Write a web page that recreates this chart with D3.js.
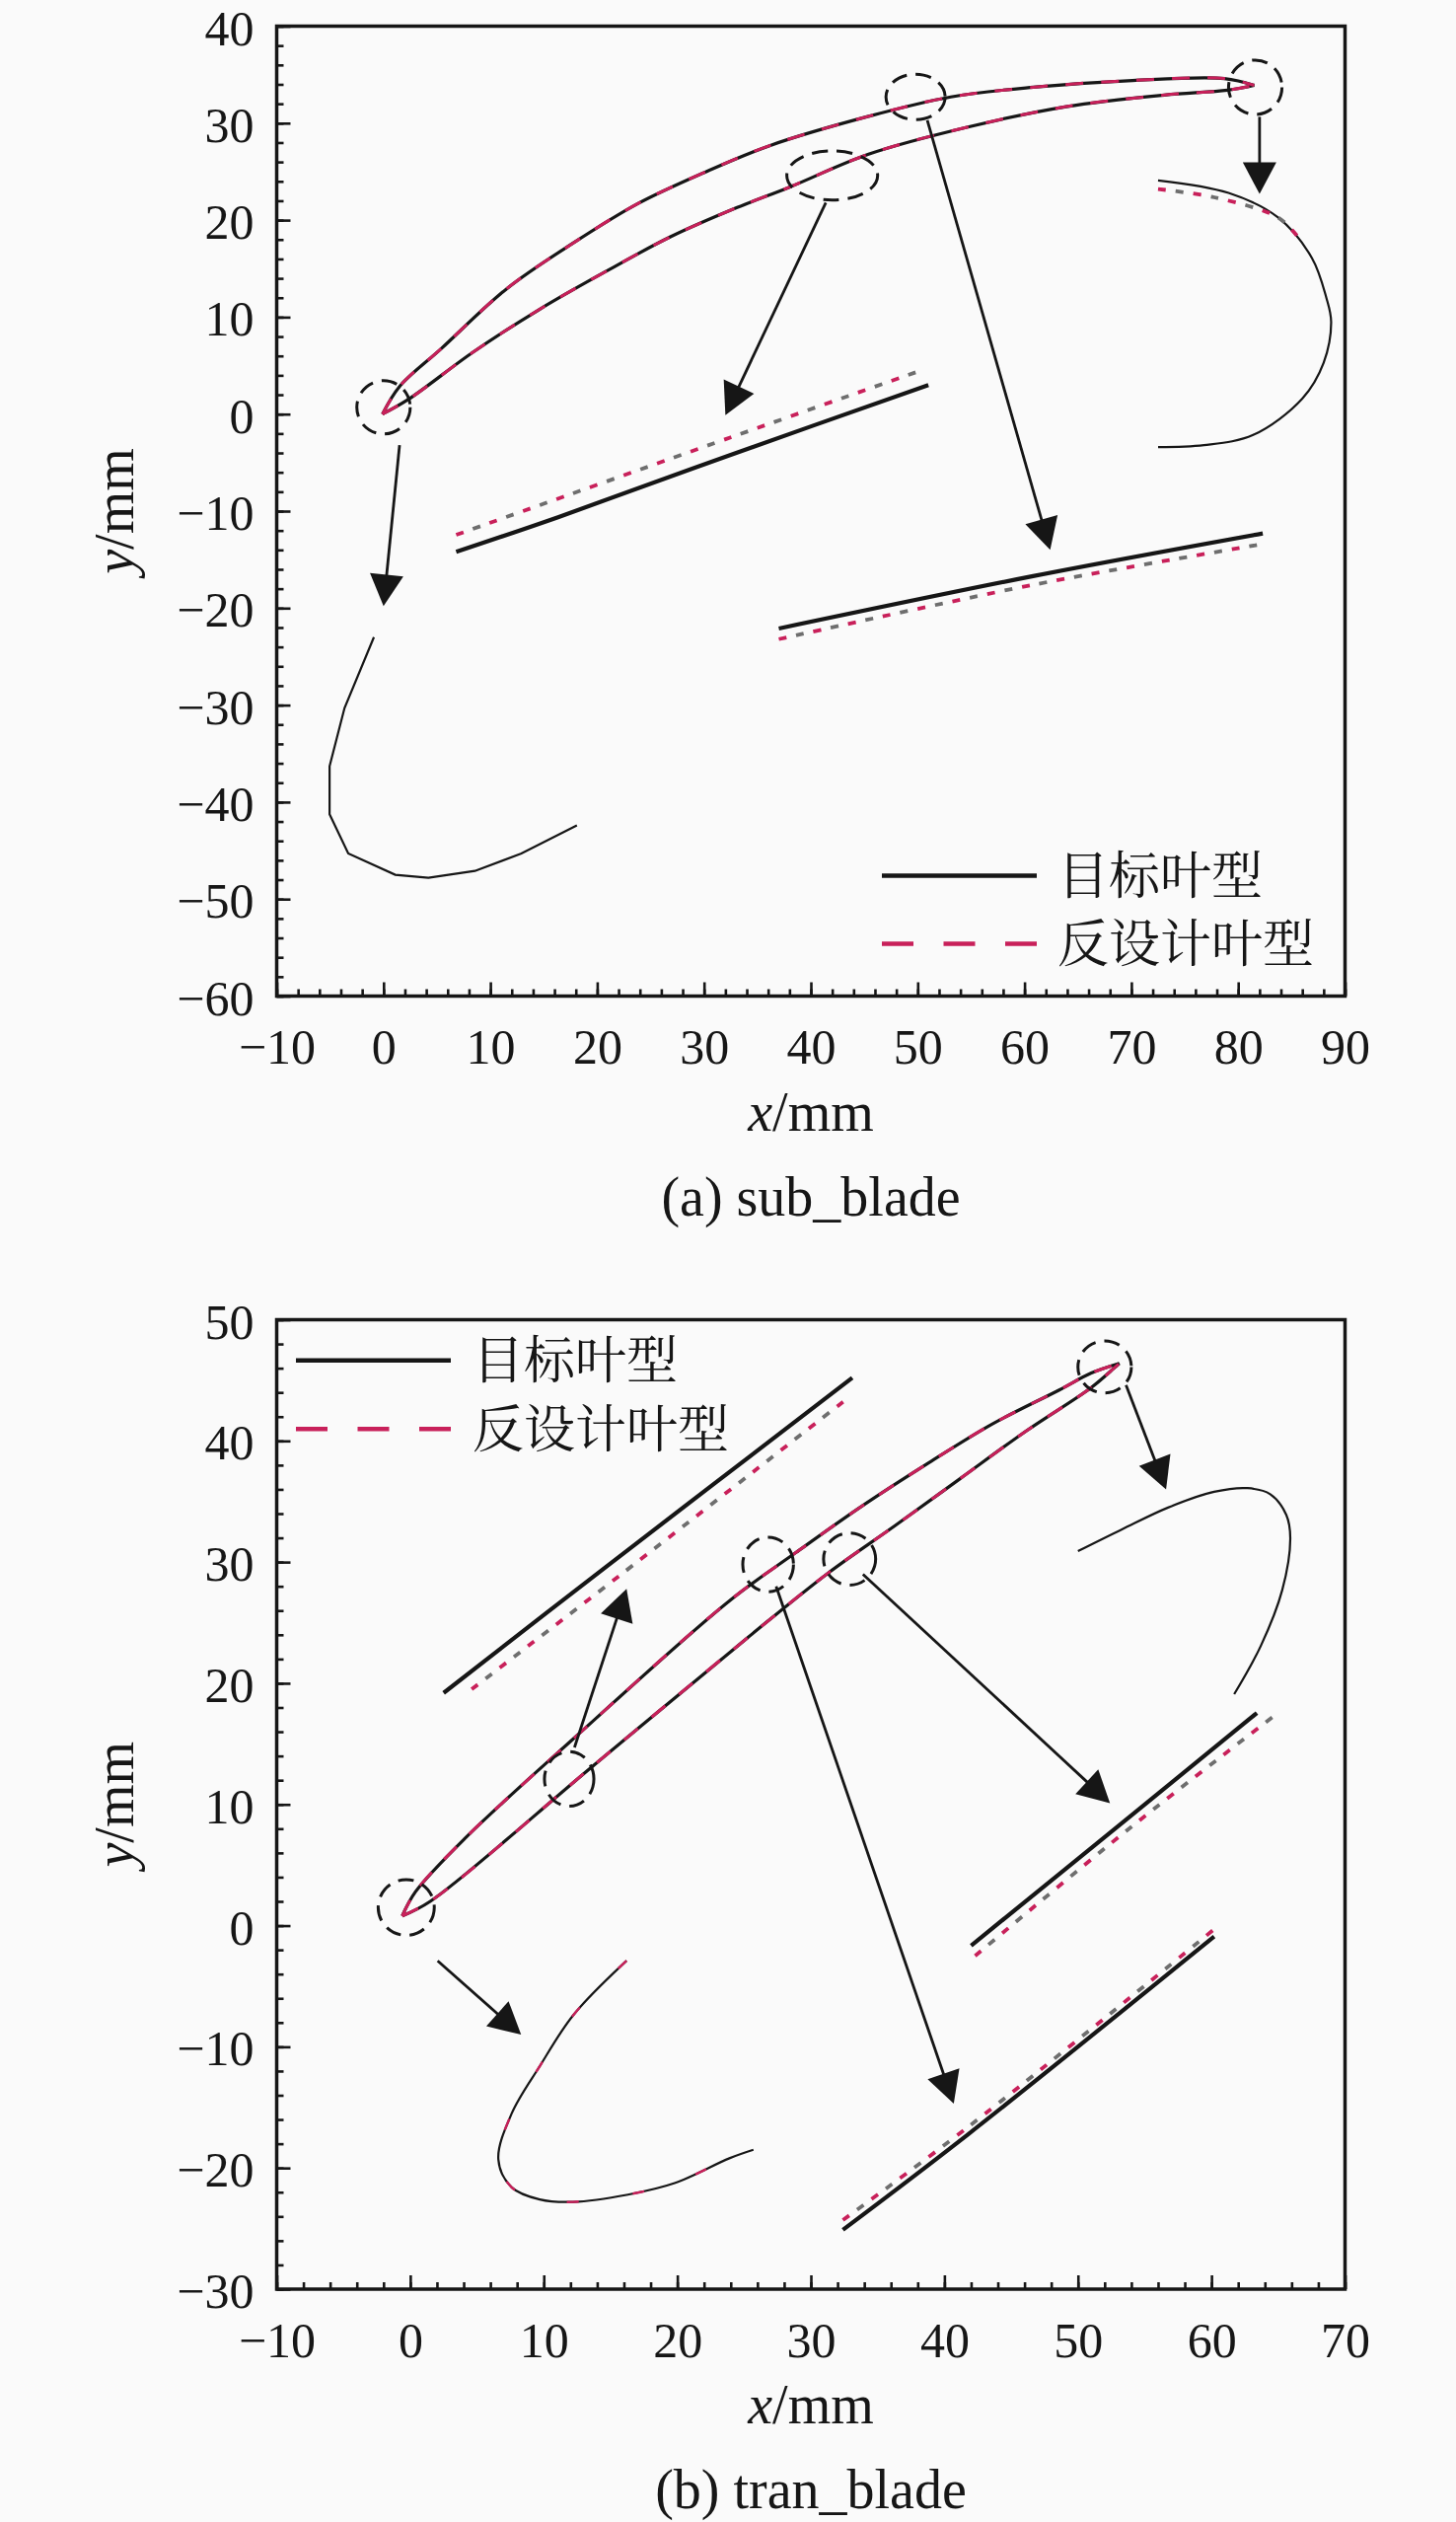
<!DOCTYPE html>
<html>
<head>
<meta charset="UTF-8">
<title>sub_blade / tran_blade</title>
<script src="https://cdnjs.cloudflare.com/ajax/libs/d3/7.8.5/d3.min.js"></script>
<style>
  body { margin: 0; background: #fafafa; }
  svg { display: block; }
  .tick text { font-family: "Liberation Serif", "Times New Roman", serif; font-size: 50px; fill: #161616; }
  .serif { font-family: "Liberation Serif", "Times New Roman", serif; fill: #161616; }
  .cjk { font-family: "Noto Serif CJK SC", "Noto Sans CJK SC", sans-serif; fill: #161616; }
</style>
</head>
<body>
<script>
// ---------- (a) sub_blade ----------
var subXTicks = [-10, 0, 10, 20, 30, 40, 50, 60, 70, 80, 90];
var subYTicks = [-60, -50, -40, -30, -20, -10, 0, 10, 20, 30, 40];
// blade surfaces (target and re-designed coincide at this scale)
var subSuction = [[-0.1,0.0],[1.5,2.85],[5.4,6.75],[11.5,12.9],[17.7,17.6],[23.8,21.7],[30.0,24.9],[36.2,27.7],
  [45.4,30.7],[53.1,32.7],[60.8,33.7],[70.1,34.4],[78.7,34.6],[81.5,33.9]];
var subPressure = [[-0.1,0.0],[2.3,1.5],[8.4,6.4],[14.6,10.8],[20.8,14.7],[26.9,18.3],[33.1,21.3],[38.0,23.4],
  [45.4,26.8],[54.7,29.6],[63.9,31.7],[73.1,32.9],[79.0,33.4],[81.5,33.9]];
// magnified details
var subLeadEdge = [[-0.9,-23.0],[-3.65,-30.3],[-5.05,-36.3],[-5.05,-41.25],[-3.3,-45.3],[1.1,-47.5],[4.2,-47.8],
  [8.55,-47.1],[12.9,-45.3],[18.1,-42.4]];
var subTrailEdge = [[72.5,24.1],[79.1,22.8],[83.7,20.3],[86.9,16.1],[88.25,12.0],[88.7,9.5],[88.0,5.3],[86.0,1.6],
  [81.4,-2.15],[76.8,-3.2],[72.5,-3.4]];
var subTrailEdgeDesign = [[72.5,23.2],[77.75,22.35],[83.7,20.3],[85.5,18.4]];
var subPressTarget = [[6.8,-14.2],[16.4,-10.6],[32.5,-4.2],[51.0,3.0]];
var subPressDesign = [[6.8,-12.45],[32.5,-2.4],[50.3,4.5]];
var subSuctTarget = [[37.0,-22.1],[60.8,-16.7],[82.3,-12.3]];
var subSuctDesign = [[37.0,-23.2],[60.8,-17.6],[82.3,-13.4]];
// marked regions [cx, cy, rx, ry] in mm, arrows [from, to] in mm
var subCircles = [[0,0.7,2.5,2.75],[42.0,24.6,4.25,2.54],[49.8,32.7,2.77,2.34],[81.6,33.7,2.5,2.8]];
var subArrows = [[[1.5,-3.2],[0,-19.8]],[[41.4,21.8],[32.0,-0.1]],[[50.9,30.3],[62.4,-14.0]],[[82.0,30.65],[82.0,22.7]]];

// ---------- (b) tran_blade ----------
var tranXTicks = [-10, 0, 10, 20, 30, 40, 50, 60, 70];
var tranYTicks = [-30, -20, -10, 0, 10, 20, 30, 40, 50];
var tranSuction = [[-0.6,0.8],[0.4,2.8],[4.1,7.2],[12.5,15.7],[23.9,26.8],[28.9,30.8],[33.8,34.6],[38.7,38.1],
  [43.6,41.4],[48.6,44.2],[51.0,45.6],[53.1,46.4]];
var tranPressure = [[-0.6,0.8],[1.5,2.0],[13.6,13.1],[25.2,23.7],[31.3,29.1],[36.3,33.0],[41.2,36.9],[46.1,40.8],
  [51.0,44.4],[52.7,46.0],[53.1,46.4]];
var tranLeadEdge = [[16.2,-2.9],[12.2,-7.4],[9.7,-11.6],[7.6,-15.5],[6.6,-19.3],[7.6,-21.6],[9.7,-22.6],[12.2,-22.8],
  [16.3,-22.2],[19.8,-21.25],[23.9,-19.2],[25.7,-18.5]];
var tranTrailEdge = [[50.0,30.9],[53.3,32.7],[56.75,34.5],[60.2,35.8],[62.7,36.1],[64.4,35.6],[65.6,33.9],[65.9,32.0],
  [65.3,27.7],[63.7,23.1],[61.7,19.1]];
var tranFrontTarget = [[2.5,19.2],[14.65,29.6],[33.1,45.2]];
var tranFrontDesign = [[4.6,19.5],[15.7,28.9],[32.85,43.6]];
var tranPressTarget = [[42.0,-1.65],[54.0,9.1],[63.4,17.55]];
var tranPressDesign = [[42.3,-2.5],[54.0,8.15],[64.8,17.4]];
var tranSuctTarget = [[32.4,-25.1],[41.8,-17.2],[60.2,-0.9]];
var tranSuctDesign = [[32.4,-24.3],[41.8,-16.6],[60.2,-0.3]];
var tranCircles = [[-0.3,1.5,2.1,2.3],[11.9,12.1,1.85,2.25],[26.8,29.8,1.9,2.25],[32.9,30.25,1.95,2.15],[52.0,46.1,2.0,2.15]];
var tranArrows = [[[2.05,-2.9],[8.3,-9.0]],[[12.3,14.7],[16.2,27.8]],[[27.4,28.0],[40.7,-14.7]],
  [[33.9,29.0],[52.4,10.1]],[[53.6,44.6],[56.6,36.0]]];

var legendNames = ['目标叶型', '反设计叶型'];

var ink = '#161616', red = '#c8205a', grey = '#6e6e6e';
var W = 1476, H = 2556;

var svg = d3.select('body').append('svg').attr('width', W).attr('height', H);
svg.append('rect').attr('width', W).attr('height', H).attr('fill', '#fafafa');

function fmt(d) { return d < 0 ? '\u2212' + Math.abs(d) : String(d); }

function drawPanel(p) {
  var x = d3.scaleLinear().domain([p.xTicks[0], p.xTicks[p.xTicks.length - 1]]).range([280.5, 1363.5]);
  var y = d3.scaleLinear().domain([p.yTicks[0], p.yTicks[p.yTicks.length - 1]]).range([p.bottom, p.top]);
  var g = svg.append('g');
  var smooth = d3.line().x(function(d){ return x(d[0]); }).y(function(d){ return y(d[1]); })
    .curve(d3.curveCatmullRom.alpha(0.5));
  var straight = d3.line().x(function(d){ return x(d[0]); }).y(function(d){ return y(d[1]); });

  function solid(data, w, gen) {
    g.append('path').attr('d', (gen || smooth)(data)).attr('fill', 'none')
      .attr('stroke', ink).attr('stroke-width', w);
  }
  function overlay(data, w, dash) {
    g.append('path').attr('d', smooth(data)).attr('fill', 'none')
      .attr('stroke', red).attr('stroke-width', w).attr('stroke-dasharray', dash);
  }
  function dotted(data) {
    g.append('path').attr('d', smooth(data)).attr('fill', 'none')
      .attr('stroke', grey).attr('stroke-width', 3.8).attr('stroke-dasharray', '8 28')
      .attr('stroke-dashoffset', 18);
    g.append('path').attr('d', smooth(data)).attr('fill', 'none')
      .attr('stroke', red).attr('stroke-width', 3.8).attr('stroke-dasharray', '8 28');
  }

  // blade
  solid(p.suction, 3.2); solid(p.pressure, 3.2);
  overlay(p.suction, 3, '18 18'); overlay(p.pressure, 3, '18 18');

  // magnified parts
  solid(p.lead, 2.2, p.leadLinear ? straight : smooth);
  if (p.leadDesign) overlay(p.lead, 2.4, '12 55');
  solid(p.trail, 2.2);
  if (p.trailDesign) dotted(p.trailDesign);
  p.insets.forEach(function(s) { solid(s[0], 4.2); dotted(s[1]); });

  // dashed marks
  p.circles.forEach(function(c) {
    g.append('ellipse').attr('cx', x(c[0])).attr('cy', y(c[1]))
      .attr('rx', x(c[0] + c[2]) - x(c[0])).attr('ry', y(c[1]) - y(c[1] + c[3]))
      .attr('fill', 'none').attr('stroke', ink).attr('stroke-width', 3)
      .attr('stroke-dasharray', '16 9');
  });
  // arrows
  p.arrows.forEach(function(a) {
    var x0 = x(a[0][0]), y0 = y(a[0][1]), x1 = x(a[1][0]), y1 = y(a[1][1]);
    var L = Math.hypot(x1 - x0, y1 - y0), ux = (x1 - x0) / L, uy = (y1 - y0) / L;
    var hl = 32, hw = 17, bx = x1 - ux * hl, by = y1 - uy * hl;
    g.append('line').attr('x1', x0).attr('y1', y0).attr('x2', bx + ux * 2).attr('y2', by + uy * 2)
      .attr('stroke', ink).attr('stroke-width', 2.8);
    g.append('path').attr('fill', ink)
      .attr('d', 'M' + x1 + ',' + y1 + 'L' + (bx - uy * hw) + ',' + (by + ux * hw) +
                 'L' + (bx + uy * hw) + ',' + (by - ux * hw) + 'Z');
  });

  // axes, ticks pointing inward
  var xs = [], ys = [];
  for (var v = p.xTicks[0]; v <= p.xTicks[p.xTicks.length - 1]; v += 2) xs.push(v);
  for (var u = p.yTicks[0]; u <= p.yTicks[p.yTicks.length - 1]; u += 2) ys.push(u);
  function styleAxis(sel) {
    sel.select('.domain').remove();
    sel.selectAll('.tick line').attr('stroke', ink).attr('stroke-width', 2.6);
  }
  g.append('g').attr('transform', 'translate(0,' + p.bottom + ')')
    .call(d3.axisBottom(x).tickValues(xs).tickSize(-7).tickFormat('')).call(styleAxis);
  g.append('g').attr('transform', 'translate(280.5,0)')
    .call(d3.axisLeft(y).tickValues(ys).tickSize(-7).tickFormat('')).call(styleAxis);
  g.append('g').attr('transform', 'translate(0,' + p.bottom + ')')
    .call(d3.axisBottom(x).tickValues(p.xTicks).tickSize(-14).tickPadding(33).tickFormat(fmt)).call(styleAxis);
  g.append('g').attr('transform', 'translate(280.5,0)')
    .call(d3.axisLeft(y).tickValues(p.yTicks).tickSize(-14).tickPadding(23).tickFormat(fmt)).call(styleAxis)
    .selectAll('.tick text').attr('dy', '0.37em');
  g.selectAll('.tick text').attr('fill', ink);

  g.append('rect').attr('x', 280.5).attr('y', p.top).attr('width', 1083).attr('height', p.bottom - p.top)
    .attr('fill', 'none').attr('stroke', ink).attr('stroke-width', 3.5);

  // axis titles
  var xt = g.append('text').attr('class', 'serif').attr('x', 822).attr('y', p.bottom + 136)
    .attr('text-anchor', 'middle').style('font-size', '56px');
  xt.append('tspan').style('font-style', 'italic').text('x');
  xt.append('tspan').text('/mm');
  var yt = g.append('text').attr('class', 'serif').attr('text-anchor', 'middle').style('font-size', '56px')
    .attr('transform', 'translate(135,' + ((p.top + p.bottom) / 2) + ') rotate(-90)');
  yt.append('tspan').style('font-style', 'italic').text('y');
  yt.append('tspan').text('/mm');

  g.append('text').attr('class', 'serif').attr('x', 822).attr('y', p.bottom + 222)
    .attr('text-anchor', 'middle').style('font-size', '56px').text(p.caption);

  // legend
  var lg = g.append('g');
  lg.append('line').attr('x1', p.legend[0]).attr('x2', p.legend[0] + 157)
    .attr('y1', p.legend[1]).attr('y2', p.legend[1]).attr('stroke', ink).attr('stroke-width', 4.5);
  lg.append('line').attr('x1', p.legend[0]).attr('x2', p.legend[0] + 158)
    .attr('y1', p.legend[1] + p.legend[3]).attr('y2', p.legend[1] + p.legend[3])
    .attr('stroke', red).attr('stroke-width', 4.5).attr('stroke-dasharray', '32 30.5');
  legendNames.forEach(function(name, i) {
    lg.append('text').attr('class', 'cjk').attr('x', p.legend[2]).attr('y', p.legend[1] + i * p.legend[3])
      .attr('dy', '0.36em').style('font-size', '52px').text(name);
  });
}

drawPanel({
  xTicks: subXTicks, yTicks: subYTicks, top: 26.5, bottom: 1009.5,
  suction: subSuction, pressure: subPressure,
  lead: subLeadEdge, leadLinear: true, trail: subTrailEdge, trailDesign: subTrailEdgeDesign,
  insets: [[subPressTarget, subPressDesign], [subSuctTarget, subSuctDesign]],
  circles: subCircles, arrows: subArrows,
  caption: '(a) sub_blade', legend: [894, 887.5, 1072, 69]
});
drawPanel({
  xTicks: tranXTicks, yTicks: tranYTicks, top: 1337.5, bottom: 2320,
  suction: tranSuction, pressure: tranPressure,
  lead: tranLeadEdge, leadDesign: true, trail: tranTrailEdge,
  insets: [[tranFrontTarget, tranFrontDesign], [tranPressTarget, tranPressDesign], [tranSuctTarget, tranSuctDesign]],
  circles: tranCircles, arrows: tranArrows,
  caption: '(b) tran_blade', legend: [300, 1378.7, 479, 69.5]
});
</script>
</body>
</html>
